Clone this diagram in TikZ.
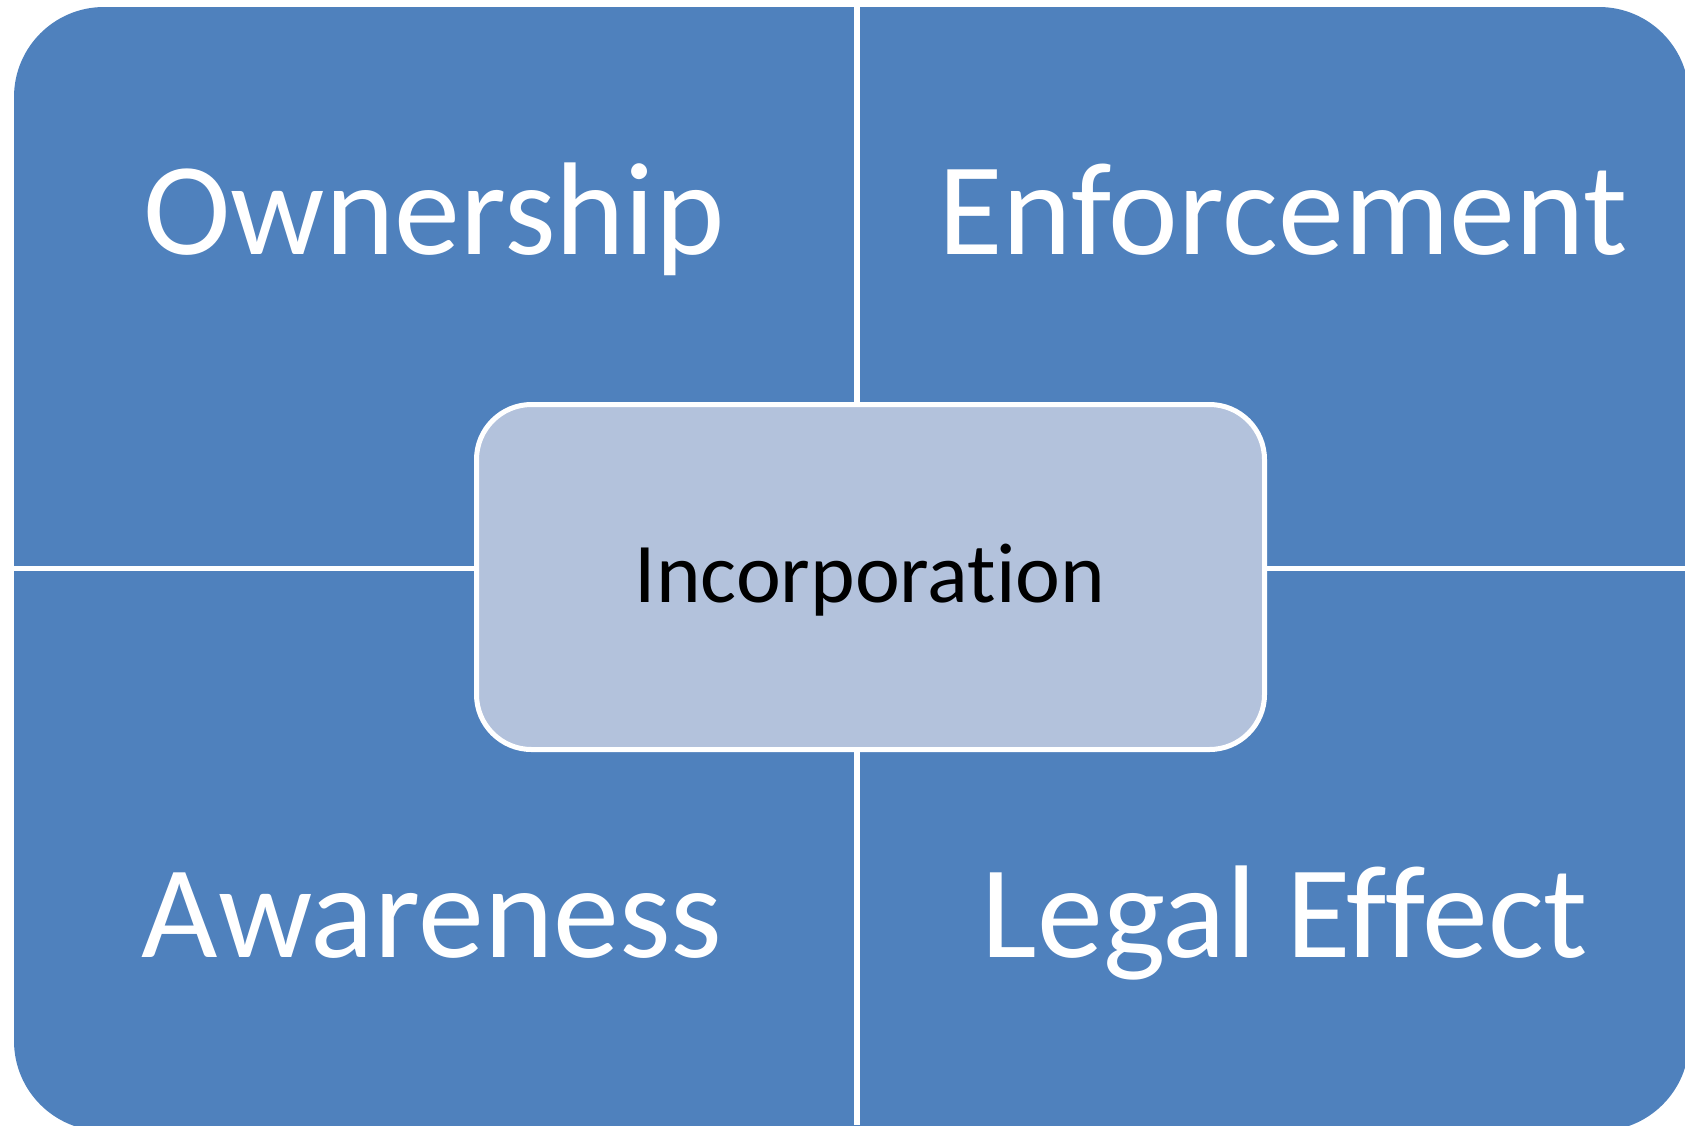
\documentclass[tikz,border=0pt]{standalone}
\usepackage{fontspec}
\setmainfont{Carlito}[Ligatures={NoCommon}]
\definecolor{quadblue}{RGB}{79,129,189}
\definecolor{centreblue}{RGB}{179,194,220}
\tikzset{
  quadlabel/.style={anchor=base, text=white, font=\fontsize{132}{158}\selectfont},
  centrelabel/.style={anchor=base, text=black, font=\fontsize{85}{102}\selectfont}
}
\begin{document}
\begin{tikzpicture}[x=1pt,y=-1pt]
                \useasboundingbox (0,0) rectangle (1685,1125);
                \clip (0,0) rectangle (1685,1125);
                \path [fill=quadblue, rounded corners=90pt] (14,7) rectangle (1689,1131);
                % dividers between the quadrants
                \draw[white, line width=5.5pt] (857,0) -- (857,1125);
                \draw[white, line width=5.5pt] (0,568.5) -- (1685,568.5);
                \path [draw=white, fill=centreblue, line width=5pt, rounded corners=55pt] (476.5,404.5) rectangle (1264.5,749.5);
                \node[quadlabel] (own) at (434,254) {Ownership};
                \node[quadlabel] (enf) at (1283,254) {Enforcement};
                \node[quadlabel] (awa) at (432,957) {Awareness};
                \node[quadlabel] (leg) at (1285,957) {Legal Effect};
                \node[centrelabel] (inc) at (870,602) {Incorporation};
            \end{tikzpicture}
\end{document}
